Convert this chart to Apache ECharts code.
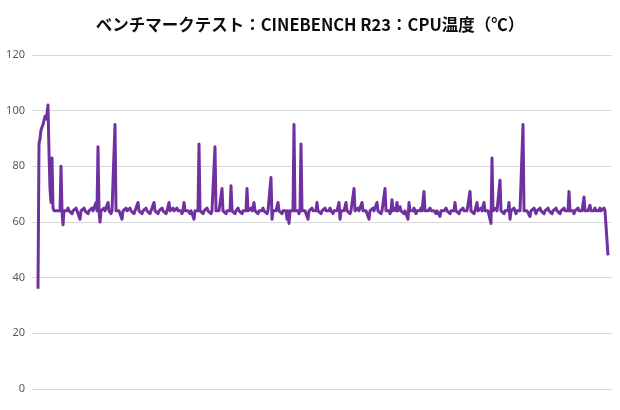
<!DOCTYPE html>
<html>
<head>
<meta charset="utf-8">
<script src="https://cdn.jsdelivr.net/npm/echarts@6/dist/echarts.min.js"></script>
<style>
html,body{margin:0;padding:0;background:#fff;}
#c{width:620px;height:410px;}
</style>
</head>
<body>
<div id="c"></div>
<script>
const titleText = 'ベンチマークテスト：CINEBENCH R23：CPU温度（℃）';
const yTicks = [0, 20, 40, 60, 80, 100, 120];
// CPU temperature samples (℃), one per sample
const cpuTemp = [
  36,88,90,93,94,95,95,98,97,99,102,85,72,67,83,65,64,64,64,64,
  64,64,64,80,64,59,64,64,64,64,65,64,64,64,63,64,64,64,65,64,
  64,64,61,64,64,64,65,64,64,64,63,64,64,64,65,64,64,64,67,64,
  87,64,60,64,64,64,65,64,64,64,67,64,64,63,64,64,64,95,64,64,
  64,64,64,64,61,64,64,64,65,64,64,64,65,64,64,64,63,64,64,64,
  67,64,64,64,63,64,64,64,65,64,64,64,63,64,64,64,67,64,64,64,
  63,64,64,64,65,64,64,64,63,64,64,67,64,64,64,65,64,64,64,65,
  64,64,64,64,63,64,67,64,64,64,64,64,63,64,64,64,61,64,64,64,
  64,88,64,64,64,63,64,64,64,65,64,64,64,63,64,64,64,87,64,64,
  64,64,64,64,72,64,64,64,63,64,64,64,64,73,64,64,64,63,64,64,
  65,64,64,64,63,64,64,64,64,72,64,64,64,65,64,64,67,64,64,64,
  63,64,64,64,64,65,64,64,64,63,64,64,64,76,61,64,64,64,64,64,
  67,64,64,64,63,64,64,64,64,61,64,59.5,64,64,64,64,95,64,64,64,
  64,63,64,88,64,64,64,64,64,64,61,64,64,64,65,64,64,64,64,67,
  64,64,64,63,64,64,64,65,64,64,64,64,65,64,64,63,64,64,64,64,
  64,67,61,64,64,64,64,64,67,64,64,64,63,64,64,64,72,64,64,64,
  65,64,64,64,67,64,64,64,64,64,64,61,64,64,64,65,64,64,64,67,
  64,64,64,63,64,64,64,72,64,64,64,64,63,64,68,64,64,65,64,67,
  64,64,65.5,64,64,64,63,64,64,64,61,67,64,64,64,64,65,64,63,64,
  64,64,64,65,64,64,71,64,64,64,64,64,65,64,64,64,64,64,63,64,
  64,64,62,64,64,64,64,64,65,64,64,64,63,64,64,64,64,67,64,64,
  64,63,64,64,64,65,64,64,64,64,64,64,71,64,64,64,63,64,64,67,
  64,64,64,65,64,64,67,64,64,64,64,64,64,59.5,83,64,64,64,65,64,
  64,64,75,64,64,64,63,64,64,64,64,67,61,64,64,64,65,64,63,64,
  64,64,64,64,64,95,64,64,64,64,64,64,62,64,64,64,65,64,63,64,
  64,64,65,64,64,64,63,64,64,64,65,64,64,64,63,64,64,64,65,64,
  64,64,63,64,64,64,65,64,64,64,64,71,64,64,64,64,63,64,64,64,
  65,64,64,64,64,64,69,64,64,64,64,64,66,64,64,64,64,65,64,64,
  64,64,65,64,64,64,65,64,64,64,48
];

const chart = echarts.init(document.getElementById('c'), null, {renderer: 'canvas'});
chart.setOption({
  animation: false,
  backgroundColor: '#ffffff',
  title: {
    text: titleText,
    left: 'center',
    top: 11,
    textStyle: {
      fontFamily: '"Noto Sans CJK JP", "Noto Sans", sans-serif',
      fontSize: 16.5,
      fontWeight: 'bold',
      color: '#0d0d0d'
    }
  },
  grid: {left: 32, right: 8, top: 55, bottom: 21, containLabel: false},
  xAxis: {
    type: 'value',
    min: -6,
    max: 574,
    axisLine: {show: false},
    axisTick: {show: false},
    axisLabel: {show: false},
    splitLine: {show: false}
  },
  yAxis: {
    type: 'value',
    min: yTicks[0],
    max: yTicks[yTicks.length - 1],
    interval: 20,
    axisLine: {show: false},
    axisTick: {show: false},
    axisLabel: {
      margin: 7,
      color: '#595959',
      fontSize: 11,
      fontFamily: '"Noto Sans", sans-serif'
    },
    splitLine: {lineStyle: {color: '#d9d9d9', width: 1}}
  },
  series: [{
    type: 'line',
    data: cpuTemp.map((v, i) => [i, v]),
    showSymbol: false,
    sampling: null,
    lineStyle: {color: '#7030A0', width: 3, join: 'round'},
    itemStyle: {color: '#7030A0'}
  }]
});
</script>
</body>
</html>
